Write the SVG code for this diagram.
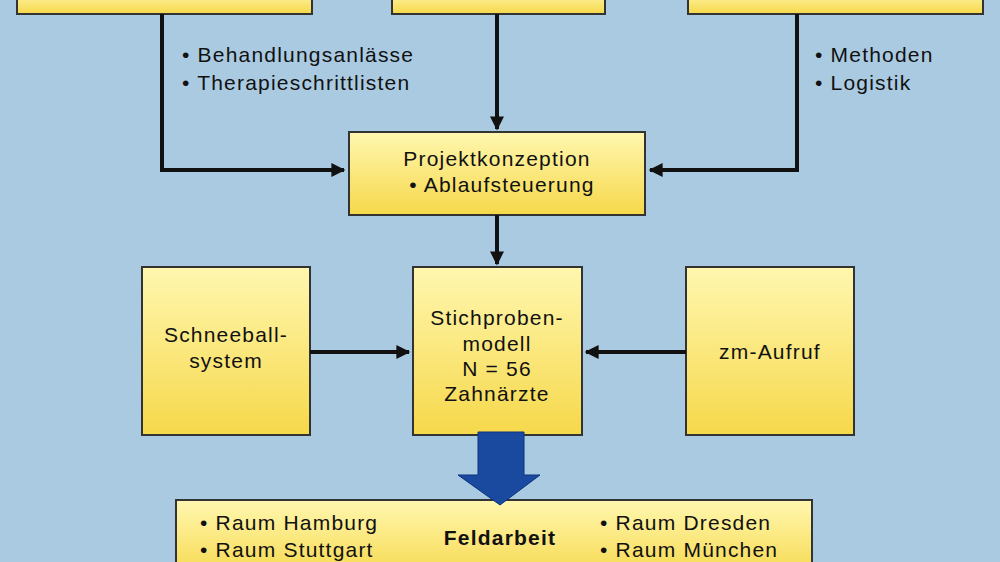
<svg xmlns="http://www.w3.org/2000/svg" width="1000" height="562" viewBox="0 0 1000 562">
<defs>
<linearGradient id="yg" x1="0" y1="0" x2="0" y2="1"><stop offset="0" stop-color="#fff7b0"/><stop offset="1" stop-color="#f6d84a"/></linearGradient>
<marker id="ah2" viewBox="0 0 10 10" refX="9" refY="5" markerWidth="16" markerHeight="14" orient="auto" markerUnits="userSpaceOnUse"><path d="M0,0 L10,5 L0,10 z" fill="#111"/></marker>
</defs>
<style>
.b{fill:url(#yg);stroke:#333;stroke-width:2}
.t{font-family:"Liberation Sans",Arial,sans-serif;font-size:21px;letter-spacing:1.2px;fill:#111}
.c{text-anchor:middle}
.l{fill:none;stroke:#111;stroke-width:4}
</style>
<rect width="1000" height="562" fill="#aacae2"/>
<g id="n1"><rect class="b" x="17" y="-10" width="295" height="24"/></g>
<g id="n2"><rect class="b" x="392" y="-10" width="213" height="24"/></g>
<g id="n3"><rect class="b" x="688" y="-10" width="295" height="24"/></g>
<g id="n4"><rect class="b" x="349" y="132" width="296" height="83"/>
<text class="t c" x="497" y="166">Projektkonzeption</text><text class="t c" x="502" y="192">• Ablaufsteuerung</text></g>
<g id="n5"><rect class="b" x="413" y="267" width="169" height="168"/>
<text class="t c" x="497" y="325">Stichproben-</text><text class="t c" x="497" y="351">modell</text><text class="t c" x="497" y="376">N = 56</text><text class="t c" x="497" y="401">Zahnärzte</text></g>
<g id="n6"><rect class="b" x="142" y="267" width="168" height="168"/>
<text class="t c" x="226" y="342">Schneeball-</text><text class="t c" x="226" y="368">system</text></g>
<g id="n7"><rect class="b" x="686" y="267" width="168" height="168"/>
<text class="t c" x="770" y="359">zm-Aufruf</text></g>
<g id="n8"><rect class="b" x="176" y="500" width="636" height="80"/>
<text class="t" x="200" y="530">• Raum Hamburg</text><text class="t" x="200" y="557">• Raum Stuttgart</text>
<text class="t c" x="500" y="545" font-weight="bold" letter-spacing="0">Feldarbeit</text>
<text class="t" x="600" y="530">• Raum Dresden</text><text class="t" x="600" y="557">• Raum München</text></g>
<g id="connectors">
<path class="l" d="M162,14 V170 H344" marker-end="url(#ah2)"/>
<path class="l" d="M497,14 V129" marker-end="url(#ah2)"/>
<path class="l" d="M797,14 V170 H650" marker-end="url(#ah2)"/>
<path class="l" d="M497,215 V264" marker-end="url(#ah2)"/>
<path class="l" d="M310,352 H409" marker-end="url(#ah2)"/>
<path class="l" d="M686,352 H586" marker-end="url(#ah2)"/>
<path d="M478,432 H524 V475 H540 L500,505 L458,475 H478 Z" fill="#1a4aa0" stroke="#0d3380" stroke-width="1"/>
<text class="t" x="182" y="62">• Behandlungsanlässe</text>
<text class="t" x="182" y="90">• Therapieschrittlisten</text>
<text class="t" x="815" y="62">• Methoden</text>
<text class="t" x="815" y="90">• Logistik</text>
</g>
</svg>
